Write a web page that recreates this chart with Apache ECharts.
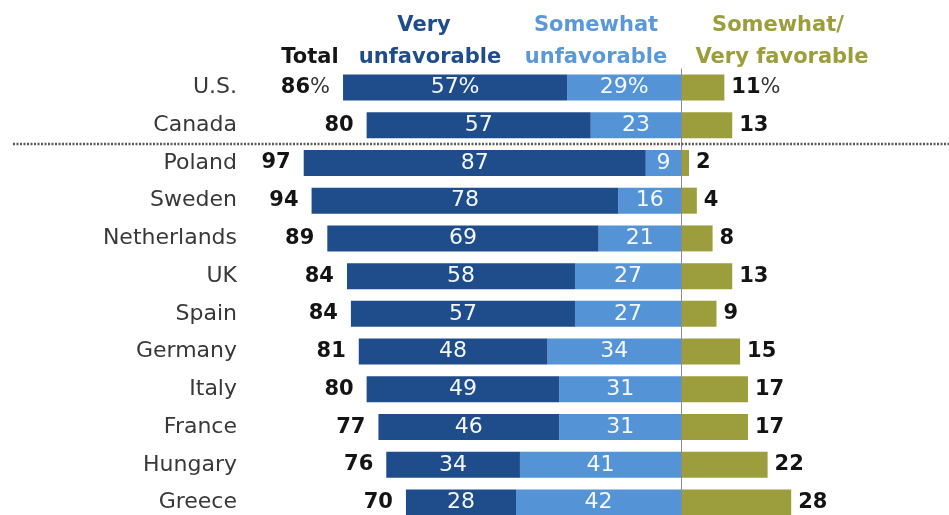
<!DOCTYPE html>
<html>
<head>
<meta charset="utf-8">
<script src="https://cdn.jsdelivr.net/npm/echarts@6/dist/echarts.min.js"></script>
<style>html,body{margin:0;padding:0;background:#fff;}#c{width:949px;height:515px;}</style>
</head>
<body>
<div id="c"></div>
<script>
const categories = ['U.S.','Canada','Poland','Sweden','Netherlands','UK','Spain','Germany','Italy','France','Hungary','Greece'];
const totalUnfav = [86,80,97,94,89,84,84,81,80,77,76,70];
const veryUnfav = [57,57,87,78,69,58,57,48,49,46,34,28];
const somewhatUnfav = [29,23,9,16,21,27,27,34,31,31,41,42];
const favorable = [11,13,2,4,8,13,9,15,17,17,22,28];

const FONT = 'DejaVu Sans';
const DARK = '#1f4c8a';
const LIGHT = '#5593d7';
const OLIVE = '#9c9d3c';

const chart = echarts.init(document.getElementById('c'));
const pct = i => (i === 0 ? '%' : '');

const option = {
  animation: false,
  grid: { left: 288, width: 629, top: 68.6, height: 452.8, outerBoundsMode: 'none', containLabel: false },
  xAxis: { type: 'value', min: -100, max: 60, show: false },
  yAxis: {
    type: 'category', data: categories, inverse: true,
    axisLine: { show: false }, axisTick: { show: false }, splitLine: { show: false },
    axisLabel: { margin: 51, fontSize: 22, color: '#383838', fontFamily: FONT }
  },
  series: [
    {
      name: 'Somewhat unfavorable', type: 'bar', stack: 'a', barWidth: 26,
      data: somewhatUnfav.map(v => -v),
      itemStyle: { color: LIGHT },
      label: { show: true, position: 'inside', color: '#f4f7fc', fontSize: 22, fontFamily: FONT,
        formatter: p => Math.abs(p.value) + pct(p.dataIndex) }
    },
    {
      name: 'Very unfavorable', type: 'bar', stack: 'a', barWidth: 26,
      data: veryUnfav.map(v => -v),
      itemStyle: { color: DARK },
      label: { show: true, position: 'inside', color: '#f4f7fc', fontSize: 22, fontFamily: FONT,
        formatter: p => Math.abs(p.value) + pct(p.dataIndex) }
    },
    {
      name: 'Favorable', type: 'bar', stack: 'a', barWidth: 26,
      data: favorable,
      itemStyle: { color: OLIVE },
      label: { show: true, position: 'right', distance: 7, fontFamily: FONT,
        formatter: p => '{b|' + p.value + '}' + (p.dataIndex === 0 ? '{p|%}' : ''),
        rich: {
          b: { fontSize: 21, fontWeight: 'bold', color: '#141414', fontFamily: FONT },
          p: { fontSize: 21, fontWeight: 'normal', color: '#333', fontFamily: FONT }
        }
      },
      markLine: {
        silent: true, symbol: 'none', label: { show: false },
        lineStyle: { color: '#8c8c8c', width: 1, type: 'solid' },
        data: [{ xAxis: 0 }]
      }
    },
    {
      name: 'Total', type: 'scatter', symbolSize: 0,
      itemStyle: { opacity: 1 },
      data: categories.map((c, i) => ({ value: [-(veryUnfav[i] + somewhatUnfav[i]), i], total: totalUnfav[i] })),
      label: { show: true, position: 'left', distance: 13, fontFamily: FONT,
        formatter: p => '{b|' + p.data.total + '}' + (p.dataIndex === 0 ? '{p|%}' : ''),
        rich: {
          b: { fontSize: 21, fontWeight: 'bold', color: '#141414', fontFamily: FONT },
          p: { fontSize: 21, fontWeight: 'normal', color: '#333', fontFamily: FONT }
        }
      }
    }
  ]
};
chart.setOption(option);

const hdr = (text, x, y, color) => ({
  type: 'text', x: x, y: y,
  style: { text: text, fill: color, font: 'bold 21px "' + FONT + '"', textAlign: 'center', textVerticalAlign: 'middle' }
});
const yCan = chart.convertToPixel({ yAxisIndex: 0 }, 1);
const yPol = chart.convertToPixel({ yAxisIndex: 0 }, 2);
const ySep = (yCan + yPol) / 2;

chart.setOption({
  graphic: [
    hdr('Total', 310, 58, '#141414'),
    hdr('Very', 424, 26, DARK),
    hdr('unfavorable', 430, 58, DARK),
    hdr('Somewhat', 596, 26, '#5b98d8'),
    hdr('unfavorable', 596, 58, '#5b98d8'),
    hdr('Somewhat/', 778, 26, OLIVE),
    hdr('Very favorable', 782, 58, OLIVE),
    {
      type: 'line', z: 100,
      shape: { x1: 13, y1: ySep, x2: 949, y2: ySep },
      style: { stroke: '#5a5a5a', lineWidth: 2.5, lineDash: [2, 1.5] }
    }
  ]
});
</script>
</body>
</html>
